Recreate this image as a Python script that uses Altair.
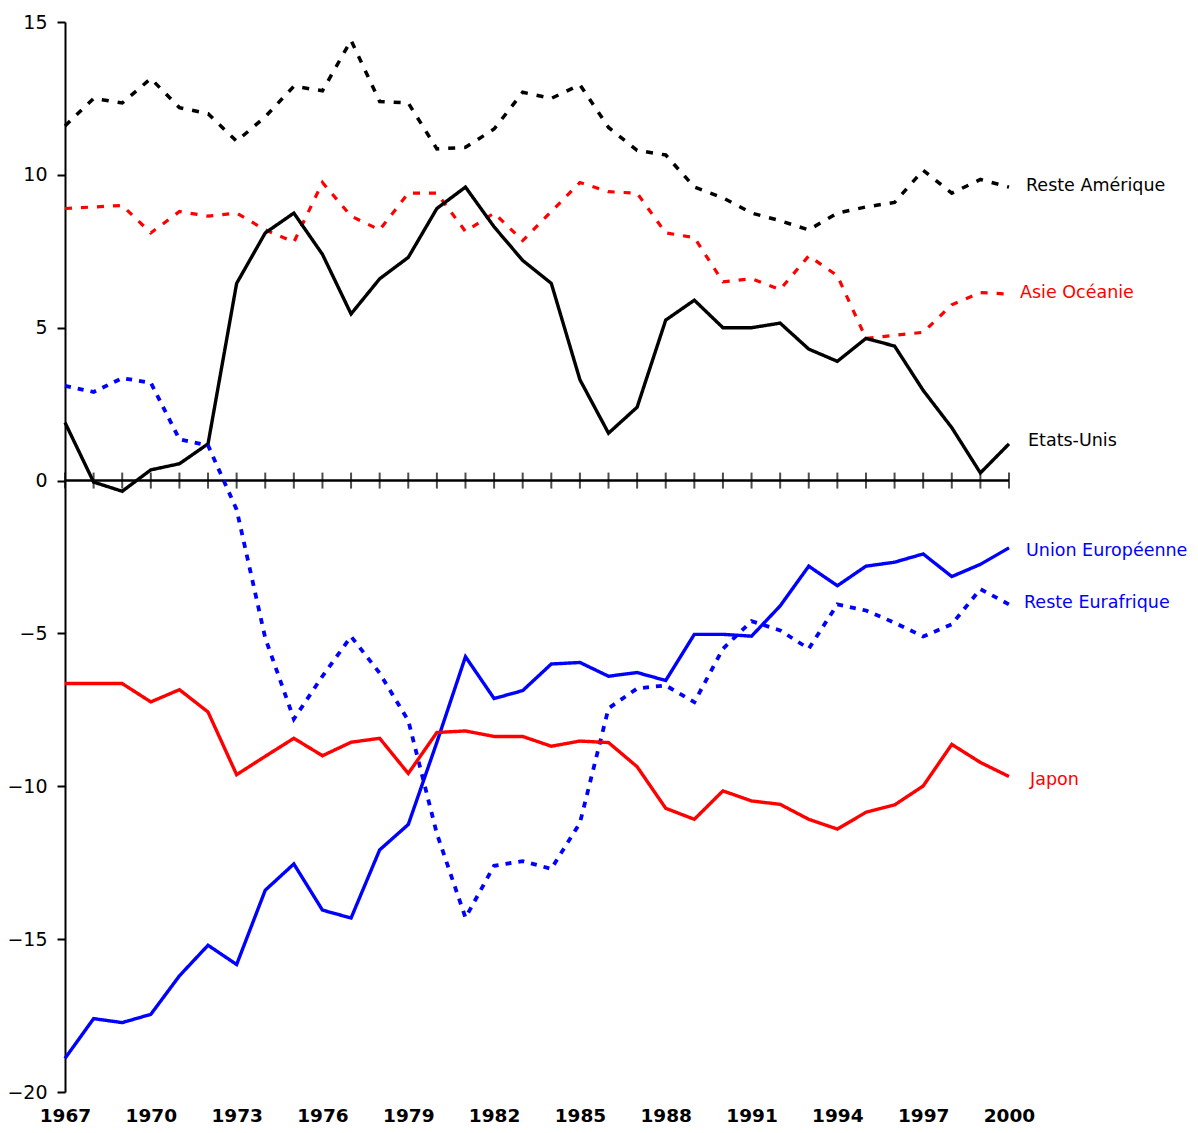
import altair as alt
import pandas as pd

years = list(range(1967, 2001))

etats_unis = [1.9, -0.05, -0.35, 0.35, 0.55, 1.2, 6.45, 8.1, 8.75, 7.4, 5.45, 6.6,
              7.3, 8.9, 9.6, 8.3, 7.2, 6.45, 3.3, 1.55, 2.4, 5.25, 5.9, 5.0, 5.0, 5.15,
              4.3, 3.9, 4.65, 4.4, 2.95, 1.73, 0.25, 1.2]
reste_amerique = [11.6, 12.5, 12.35, 13.15, 12.2, 12.0, 11.1, 11.9, 12.9, 12.75, 14.4, 12.4,
                  12.35, 10.85, 10.9, 11.5, 12.7, 12.5, 12.95, 11.55, 10.8, 10.65, 9.6, 9.25, 8.75, 8.5,
                  8.2, 8.75, 8.95, 9.1, 10.15, 9.4, 9.85, 9.6]
asie_oceanie = [8.9, 8.95, 9.0, 8.1, 8.8, 8.65, 8.75, 8.2, 7.8, 9.75, 8.65, 8.2,
                9.4, 9.4, 8.15, 8.75, 7.85, 8.8, 9.75, 9.45, 9.4, 8.1, 7.95, 6.5, 6.6, 6.25,
                7.35, 6.7, 4.65, 4.75, 4.85, 5.75, 6.15, 6.1]
reste_eurafrique = [3.1, 2.9, 3.35, 3.2, 1.35, 1.15, -0.95, -5.15, -7.8, -6.4, -5.1, -6.3,
                    -7.85, -11.55, -14.3, -12.6, -12.45, -12.7, -11.2, -7.45, -6.8, -6.7, -7.25, -5.5, -4.6, -4.9,
                    -5.5, -4.05, -4.25, -4.65, -5.1, -4.7, -3.55, -4.05]
union_europeenne = [-18.9, -17.6, -17.73, -17.46, -16.2, -15.2, -15.83, -13.4, -12.54, -14.05, -14.31, -12.08,
                    -11.25, -8.56, -5.76, -7.13, -6.87, -6.0, -5.95, -6.4, -6.28, -6.54, -5.03, -5.03, -5.09, -4.1,
                    -2.8, -3.44, -2.8, -2.67, -2.4, -3.14, -2.74, -2.2]
japon = [-6.64, -6.64, -6.64, -7.24, -6.84, -7.57, -9.62, -9.02, -8.43, -9.0, -8.56, -8.43,
         -9.58, -8.24, -8.19, -8.37, -8.37, -8.69, -8.52, -8.57, -9.36, -10.72, -11.08, -10.15, -10.48, -10.59,
         -11.08, -11.4, -10.85, -10.61, -9.99, -8.63, -9.22, -9.68]

series_names = ["Reste Amérique", "Asie Océanie", "Etats-Unis",
                "Union Européenne", "Reste Eurafrique", "Japon"]
series_values = [reste_amerique, asie_oceanie, etats_unis,
                 union_europeenne, reste_eurafrique, japon]
series_colors = ["#000000", "#ff0000", "#000000", "#0000ff", "#0000ff", "#ff0000"]
series_dash = [[7, 9], [7, 9], [1, 0], [1, 0], [6, 7], [1, 0]]
series_width = [3.5, 3.2, 3.4, 3.4, 3.8, 3.4]
label_y = [9.62, 6.15, 1.3, -2.29, -4.0, -9.81]
label_dx = [17, 11, 19, 17, 15, 21]

y_ticks = [-20, -15, -10, -5, 0, 5, 10, 15]
x_labels = list(range(1967, 2001, 3))

W, H = 944, 1070
FONT = "DejaVu Sans"

xs = alt.Scale(domain=[1967, 2000], nice=False, zero=False)
ys = alt.Scale(domain=[-20, 15], nice=False, zero=False)

layers = []

axis_df = pd.DataFrame({"year": years, "v": [0] * len(years)})
base_axes = alt.Chart(axis_df).mark_tick(orient="vertical", size=16, thickness=2, color="black").encode(
    x=alt.X("year:Q", scale=xs, axis=alt.Axis(
        values=x_labels, format="d", domain=False, ticks=False, grid=False,
        labelFont=FONT, labelFontSize=18.5, labelFontWeight="bold", labelColor="black",
        labelPadding=14, title=None, labelFlush=False)),
    y=alt.Y("v:Q", scale=ys, axis=alt.Axis(
        values=y_ticks, format="d", domain=True, domainColor="black", domainWidth=2,
        ticks=True, tickSize=8, tickWidth=2, tickColor="black", grid=False,
        labelFont=FONT, labelFontSize=19, labelColor="black", labelPadding=10, title=None)),
)
layers.append(base_axes)

zero_df = pd.DataFrame({"x1": [years[0]], "x2": [years[-1]], "v": [0]})
layers.append(alt.Chart(zero_df).mark_rule(color="black", strokeWidth=2.5).encode(
    x=alt.X("x1:Q", scale=xs), x2="x2:Q", y=alt.Y("v:Q", scale=ys)))

for name, vals, col, dash, sw in zip(series_names, series_values, series_colors, series_dash, series_width):
    df = pd.DataFrame({"year": years, "value": vals})
    layers.append(alt.Chart(df).mark_line(color=col, strokeDash=dash, strokeWidth=sw,
                                           strokeJoin="miter", strokeCap="butt").encode(
        x=alt.X("year:Q", scale=xs), y=alt.Y("value:Q", scale=ys)))

for name, ly, col, dx in zip(series_names, label_y, series_colors, label_dx):
    df = pd.DataFrame({"year": [years[-1]], "value": [ly], "label": [name]})
    layers.append(alt.Chart(df).mark_text(align="left", baseline="middle", dx=dx, color=col,
                                           font=FONT, fontSize=17.5).encode(
        x=alt.X("year:Q", scale=xs), y=alt.Y("value:Q", scale=ys), text="label:N"))

chart = alt.layer(*layers).properties(
    width=W, height=H,
    background="white",
    autosize=alt.AutoSizeParams(type="none"),
    padding={"left": 57, "top": 14, "right": 181, "bottom": 33},
).configure_view(stroke=None, strokeWidth=0)

chart.save("out.html", embed_options={"renderer": "svg", "actions": False})
